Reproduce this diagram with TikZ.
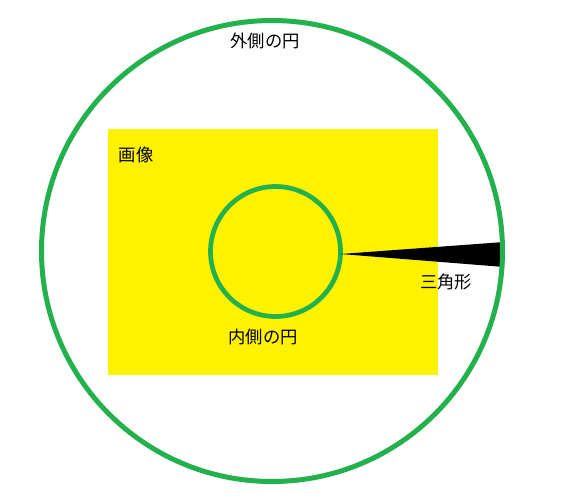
\documentclass[tikz,border=0pt]{standalone}
\usepackage{fontspec}
\newfontfamily\jpfont{Noto Sans CJK JP}
\begin{document}
\begin{tikzpicture}[x=1pt,y=-1pt]
  \tikzset{ring/.style={circle, draw=ringgreen, inner sep=0pt},
    lbl/.style={font=\jpfont\fontsize{17.3}{20}\selectfont, inner sep=0pt}}
  \definecolor{ringgreen}{RGB}{34,177,76}
  \definecolor{imgyellow}{RGB}{255,242,0}
  \useasboundingbox (0,0) rectangle (568,501);
  \fill[imgyellow] (108,129) rectangle (438,375);
  \node[lbl] (imglbl) at (136,155) {画像};
  \node[ring, line width=4.7pt, minimum size=130pt] (inner) at (275.5,251.5) {};
  \fill (340.5,254) -- (504,242) -- (504,267) -- cycle;
  \node[ring, line width=5pt, minimum size=461pt] (outer) at (272,251) {};
  \node[lbl] (outerlbl) at (265,41) {外側の円};
  \node[lbl] (innerlbl) at (263,337) {内側の円};
  \node[lbl] (trilbl) at (446,282) {三角形};
\end{tikzpicture}
\end{document}
